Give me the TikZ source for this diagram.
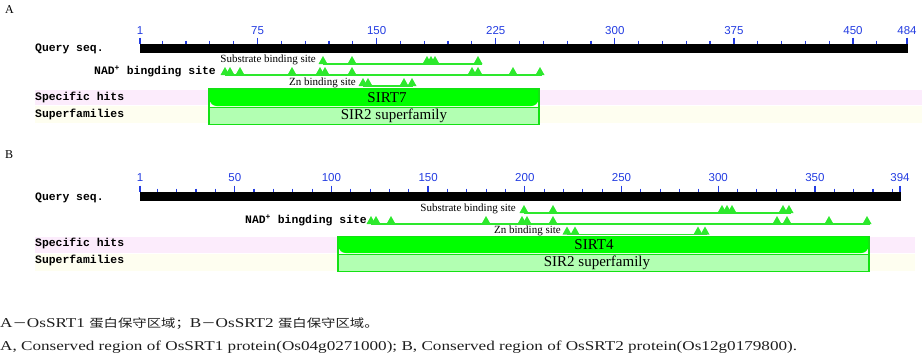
\documentclass[tikz,border=0pt]{standalone}
\usepackage{fontspec}
\setmainfont{Liberation Serif}
\setsansfont{Liberation Sans}
\setmonofont{Liberation Mono}
\newfontfamily\capfont[FakeStretch=1.27]{Liberation Serif}
\newfontfamily\capcjk[FakeStretch=1.25]{Noto Sans CJK SC}
\usetikzlibrary{positioning}
\definecolor{axisblue}{RGB}{35, 60, 225}
\definecolor{hitgreen}{RGB}{0, 255, 0}
\definecolor{famfill}{RGB}{178, 255, 178}
\definecolor{boxline}{RGB}{20, 225, 20}
\definecolor{sitegreen}{RGB}{45, 232, 45}
\definecolor{bandpink}{RGB}{252, 236, 252}
\definecolor{bandyellow}{RGB}{254, 254, 240}
\definecolor{captext}{RGB}{30, 30, 30}

% one conserved-site mark sitting on a feature line
\newcommand{\site}[2]{\fill[sitegreen] ({#1-4.5},#2) -- (#1,{#2-8}) -- ({#1+4.5},#2) -- cycle;}
\newcommand{\zh}[1]{{\capcjk\fontsize{11.5}{14}\selectfont #1}}

\begin{document}
\begin{tikzpicture}[
    x=1pt, y=-1pt,
    rowlabel/.style={
        anchor=west,
        inner sep=0pt,
        font=\fontsize{11.4}{12}\ttfamily\bfseries
    },
    axisnum/.style={
        text=axisblue,
        inner sep=0pt,
        font=\fontsize{11.5}{12}\sffamily
    },
    sitelabel/.style={
        anchor=base east,
        inner sep=0pt,
        font=\fontsize{11}{12}\selectfont
    },
    nadlabel/.style={
        anchor=base east,
        inner sep=0pt,
        font=\fontsize{11.4}{12}\ttfamily\bfseries
    },
    hitlabel/.style={inner sep=0pt, font=\fontsize{15}{16}\selectfont},
    panel/.style={anchor=west, inner sep=0pt, font=\fontsize{12}{13}\selectfont},
    caption/.style={anchor=west, inner sep=0pt, text=captext, font=\capfont\fontsize{13.5}{15}\selectfont},
    majortick/.style={draw=axisblue, line width=1.3pt},
    minortick/.style={draw=axisblue, line width=1.2pt},
    siteline/.style={draw=sitegreen, line width=1.2pt},
    hitbox/.style={fill=hitgreen},
    fambox/.style={fill=famfill, draw=boxline, line width=1.2pt}
]
\useasboundingbox (0,0) rectangle (922,359);

%%% panel A
\node[panel] (pA) at (5,10) {A};

\fill[bandpink] (35,90) rectangle (922,105);
\fill[bandyellow] (35,106) rectangle (922,123);

\foreach \r in {15,30,...,465}
    \draw[minortick] ({140+(\r-1)*1.588},40.5) -- ++(0,3.5);
\foreach \r in {1,75,150,225,300,375,450,484} {
    \draw[majortick] ({140+(\r-1)*1.588},37.5) -- ++(0,6.5);
    \node[axisnum] (nA\r) at ({140+(\r-1)*1.588},31) {\r};
}
\fill[black] (140,43.5) rectangle (908,53);

\node[rowlabel] (qA) at (35,49) {Query seq.};

\node[sitelabel] (subA) at (316,62) {Substrate binding site};
\draw[siteline] (323,64) -- (482,64);
\foreach \s in {323,352,427,431,435,478} {\site{\s}{64}}

\node[nadlabel] (nadA) at (216,74.5) {NAD\textsuperscript{+} bingding site};
\draw[siteline] (225,75) -- (542,75);
\foreach \s in {225,230,240,292,320,325,352,472,478,513,540} {\site{\s}{75}}

\node[sitelabel] (znA) at (356,85) {Zn binding site};
\draw[siteline] (363,86) -- (413,86);
\foreach \s in {363,368,404,412} {\site{\s}{86}}

\node[rowlabel] (hitsA) at (35,97) {Specific hits};
\node[rowlabel] (famA) at (35,114) {Superfamilies};

\draw[boxline, line width=1.2pt] (209,89) rectangle (539,124.5);
\fill[hitgreen, rounded corners=7pt] (209.6,89.6) rectangle (538.4,106);
\fill[hitgreen] (209.6,89.6) rectangle (538.4,98);
\filldraw[fambox] (209,107.5) rectangle (539,124.5);
\node[hitlabel] (sirt7) at (387,97.5) {SIRT7};
\node[hitlabel] (sir2A) at (394,116) {SIR2 superfamily};

%%% panel B
\node[panel] (pB) at (5,155) {B};

\fill[bandpink] (35,237) rectangle (915,253);
\fill[bandyellow] (35,254) rectangle (915,271);

\foreach \r in {10,20,...,390}
    \draw[minortick] ({140+(\r-1)*1.9338},188.5) -- ++(0,3.5);
\foreach \r in {1,50,100,150,200,250,300,350,394} {
    \draw[majortick] ({140+(\r-1)*1.9338},185.5) -- ++(0,6.5);
    \node[axisnum] (nB\r) at ({140+(\r-1)*1.9338},178) {\r};
}
\fill[black] (140,191.7) rectangle (900.5,201);

\node[rowlabel] (qB) at (35,198) {Query seq.};

\node[sitelabel] (subB) at (516,211) {Substrate binding site};
\draw[siteline] (524,213) -- (791,213);
\foreach \s in {524,553,722,727,732,783,789} {\site{\s}{213}}

\node[nadlabel] (nadB) at (367,223.5) {NAD\textsuperscript{+} bingding site};
\draw[siteline] (371,224) -- (870,224);
\foreach \s in {371,376,391,486,522,527,553,777,787,829,867} {\site{\s}{224}}

\node[sitelabel] (znB) at (561,233) {Zn binding site};
\draw[siteline] (567,234.5) -- (707,234.5);
\foreach \s in {567,575,698,705} {\site{\s}{234.5}}

\node[rowlabel] (hitsB) at (35,243) {Specific hits};
\node[rowlabel] (famB) at (35,260.5) {Superfamilies};

\draw[boxline, line width=1.2pt] (338,236.5) rectangle (869,271.5);
\fill[hitgreen, rounded corners=7pt] (338.6,237.1) rectangle (868.4,253);
\fill[hitgreen] (338.6,237.1) rectangle (868.4,245);
\filldraw[fambox] (338,254.5) rectangle (869,271.5);
\node[hitlabel] (sirt4) at (594,244.5) {SIRT4};
\node[hitlabel] (sir2B) at (597,262.5) {SIR2 superfamily};

%%% caption
\node[caption] (capzh) at (0,324) {A\zh{－}OsSRT1 \zh{蛋白保守区域；}B\zh{－}OsSRT2 \zh{蛋白保守区域。}};
\node[caption] (capen) at (0,347) {A, Conserved region of OsSRT1 protein(Os04g0271000); B, Conserved region of OsSRT2 protein(Os12g0179800).};

\end{tikzpicture}
\end{document}
